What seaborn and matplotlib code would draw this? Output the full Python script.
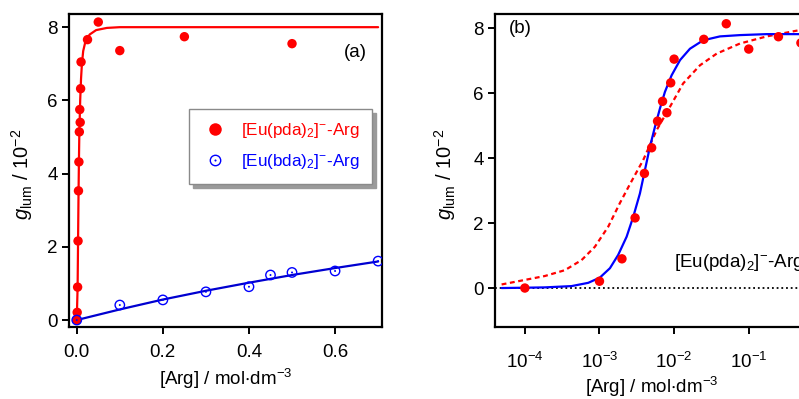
import numpy as np
import pandas as pd
import matplotlib
matplotlib.use("Agg")
import matplotlib.pyplot as plt
import seaborn as sns
from matplotlib.lines import Line2D
from matplotlib.legend_handler import HandlerTuple
from matplotlib.ticker import LogLocator, NullLocator

# ---------------- data ----------------
pda_x = [1e-4, 1e-3, 2e-3, 3e-3, 4e-3, 5e-3, 6e-3, 7e-3, 8e-3, 9e-3, 1e-2,
         2.5e-2, 5e-2, 0.1, 0.25, 0.5]
pda_y = [0.0, 0.21, 0.9, 2.16, 3.53, 4.32, 5.14, 5.75, 5.4, 6.32, 7.05,
         7.66, 8.14, 7.36, 7.74, 7.55]

bda_x = [0.0, 0.1, 0.2, 0.3, 0.4, 0.45, 0.5, 0.6, 0.7]
bda_y = [0.0, 0.41, 0.55, 0.77, 0.91, 1.23, 1.30, 1.34, 1.61]

# fitted curves
pda_fit_lin_x = [0.0, 0.002, 0.003, 0.004, 0.005, 0.006, 0.008, 0.010, 0.012,
                 0.015, 0.020, 0.030, 0.045, 0.070, 0.10, 0.20, 0.40, 0.70]
pda_fit_lin_y = [0.0, 0.9, 2.1, 3.3, 4.3, 5.1, 6.0, 6.6, 7.0,
                 7.35, 7.6, 7.8, 7.92, 7.98, 8.0, 8.0, 8.0, 8.0]

bda_fit_x = [0.0, 0.1, 0.2, 0.3, 0.4, 0.5, 0.6, 0.7]
bda_fit_y = [0.0, 0.29, 0.56, 0.80, 1.02, 1.23, 1.42, 1.60]

hill_x = [4.88e-5, 1.0e-4, 1.85e-4, 4.23e-4, 7.06e-4, 1.01e-3, 1.38e-3,
          1.78e-3, 2.31e-3, 2.83e-3, 3.48e-3, 4.06e-3, 4.74e-3, 5.53e-3,
          6.46e-3, 7.53e-3, 9.25e-3, 1.20e-2, 1.63e-2, 2.45e-2, 4.11e-2,
          7.62e-2, 0.174, 0.468, 1.0]
hill_y = [0.0, 0.01, 0.02, 0.06, 0.16, 0.32, 0.61,
          1.02, 1.58, 2.19, 2.91, 3.63, 4.35, 4.96,
          5.53, 6.04, 6.55, 7.02, 7.37, 7.63, 7.75,
          7.79, 7.82, 7.82, 7.82]

lang_x = [4.88e-5, 1.0e-4, 1.85e-4, 3.44e-4, 5.75e-4, 8.67e-4, 1.31e-3,
          1.87e-3, 2.56e-3, 3.85e-3, 5.82e-3, 8.79e-3, 1.32e-2, 2.22e-2,
          3.72e-2, 7.62e-2, 0.174, 0.471, 1.0]
lang_y = [0.11, 0.25, 0.37, 0.55, 0.86, 1.27, 1.89,
          2.61, 3.2, 3.94, 4.86, 5.58, 6.30, 6.86,
          7.22, 7.53, 7.75, 7.94, 7.97]

# ---------------- style ----------------
sns.set_style("ticks")
plt.rcParams["font.family"] = ["Liberation Sans", "DejaVu Sans"]
plt.rcParams["mathtext.fontset"] = "custom"
plt.rcParams["mathtext.rm"] = "Liberation Sans"
plt.rcParams["mathtext.it"] = "Liberation Sans:italic"
plt.rcParams["mathtext.default"] = "regular"
plt.rcParams["text.color"] = "black"
plt.rcParams["axes.labelcolor"] = "black"

RED = "#ff0000"
BLUE = "#0000ff"
BLUE_L = "#0000d0"

W, H = 799, 399
fig = plt.figure(figsize=(W / 100, H / 100), dpi=100)

def frac(l, t, r, b):
    return [l / W, (H - b) / H, (r - l) / W, (b - t) / H]

axA = fig.add_axes(frac(69, 14, 382, 327))
axB = fig.add_axes(frac(495, 14, 808, 327))

df_pda = pd.DataFrame({"x": pda_x, "y": pda_y})
df_bda = pd.DataFrame({"x": bda_x, "y": bda_y})

# ---------------- panel (a) ----------------
sns.lineplot(x=pda_fit_lin_x, y=pda_fit_lin_y, ax=axA, color=RED, lw=1.6,
             sort=False, estimator=None)
sns.lineplot(x=bda_fit_x, y=bda_fit_y, ax=axA, color=BLUE_L, lw=1.6,
             sort=False, estimator=None)
sns.scatterplot(data=df_pda, x="x", y="y", ax=axA, color=RED, s=46,
                edgecolor="none", zorder=3)
sns.scatterplot(data=df_bda, x="x", y="y", ax=axA, s=46, marker="o",
                facecolor="none", edgecolor=BLUE, linewidth=1.0, zorder=3)
sns.scatterplot(data=df_bda, x="x", y="y", ax=axA, s=2, color=BLUE,
                edgecolor="none", zorder=3)

axA.set_xlim(-0.018, 0.709)
axA.set_ylim(-0.19, 8.36)
axA.set_xticks([0.0, 0.2, 0.4, 0.6])
axA.set_xticklabels(["0.0", "0.2", "0.4", "0.6"])
axA.set_yticks([0, 2, 4, 6, 8])
axA.text(0.646, 7.3, "(a)", fontsize=13.5, ha="center", va="center",
         color="black")

h1 = Line2D([], [], ls="none", marker="o", ms=9, color=RED, mec="none")
h2a = Line2D([], [], ls="none", marker="o", ms=7.5, mfc="none", mec=BLUE, mew=1.0)
h2b = Line2D([], [], ls="none", marker="o", ms=1.5, color=BLUE, mec="none")
leg = axA.legend([h1, (h2a, h2b)],
                 [r"[Eu(pda)$_2$]$^{-}$-Arg", r"[Eu(bda)$_2$]$^{-}$-Arg"],
                 handler_map={tuple: HandlerTuple(ndivide=1, pad=0)},
                 loc="upper left", bbox_to_anchor=(0.383, 0.696),
                 fontsize=12.3, frameon=True, fancybox=False,
                 shadow={"ox": 3, "oy": -3, "color": "#9a9a9a", "alpha": 1},
                 borderpad=0.72, handlelength=1.6, handletextpad=0.73,
                 labelspacing=0.7, borderaxespad=0)
leg.get_frame().set_edgecolor("#8a8a8a")
leg.get_frame().set_linewidth(1.0)
leg.get_texts()[0].set_color(RED)
leg.get_texts()[1].set_color(BLUE)

# ---------------- panel (b) ----------------
axB.set_xscale("log")
axB.axhline(0, color="black", ls=(0, (1, 1.6)), lw=1.3, zorder=1)
sns.lineplot(x=lang_x, y=lang_y, ax=axB, color=RED, lw=1.6,
             ls=(0, (2.2, 1.6)), sort=False, estimator=None)
sns.lineplot(x=hill_x, y=hill_y, ax=axB, color=BLUE, lw=1.6,
             sort=False, estimator=None)
sns.scatterplot(data=df_pda, x="x", y="y", ax=axB, color=RED, s=46,
                edgecolor="none", zorder=3)
axB.set_xlim(10 ** -4.40, 10 ** -0.206)
axB.set_ylim(-1.2, 8.44)
axB.set_yticks([0, 2, 4, 6, 8])
axB.xaxis.set_major_locator(LogLocator(base=10, numticks=10))
axB.xaxis.set_minor_locator(NullLocator())
axB.text(10 ** -4.22, 8.0, "(b)", fontsize=13.5, ha="left", va="center",
         color="black")
axB.text(10 ** -2.0, 0.8, r"[Eu(pda)$_2$]$^{-}$-Arg", fontsize=13.5,
         ha="left", va="center", color="black")

# ---------------- common ----------------
ylab = r"$\mathit{g}$$_{\rm lum}$ / 10$^{-2}$"
xlab = r"[Arg] / mol$\cdot$dm$^{-3}$"
for ax, xl_y, yl_x, pad in [(axA, -0.127, -0.109, 7), (axB, -0.152, -0.118, 13)]:
    for sp in ax.spines.values():
        sp.set_linewidth(1.6)
        sp.set_color("black")
    ax.tick_params(axis="both", direction="out", length=5, width=1.4,
                   labelsize=13.5, colors="black", top=False, right=False)
    ax.tick_params(axis="y", pad=3)
    ax.tick_params(axis="x", pad=pad)
    ax.set_xlabel(xlab, fontsize=13.5, color="black")
    ax.set_ylabel(ylab, fontsize=14.5, color="black")
    ax.xaxis.set_label_coords(0.5, xl_y)
    ax.yaxis.set_label_coords(yl_x, 0.487)

fig.savefig("out.png", dpi=100)
